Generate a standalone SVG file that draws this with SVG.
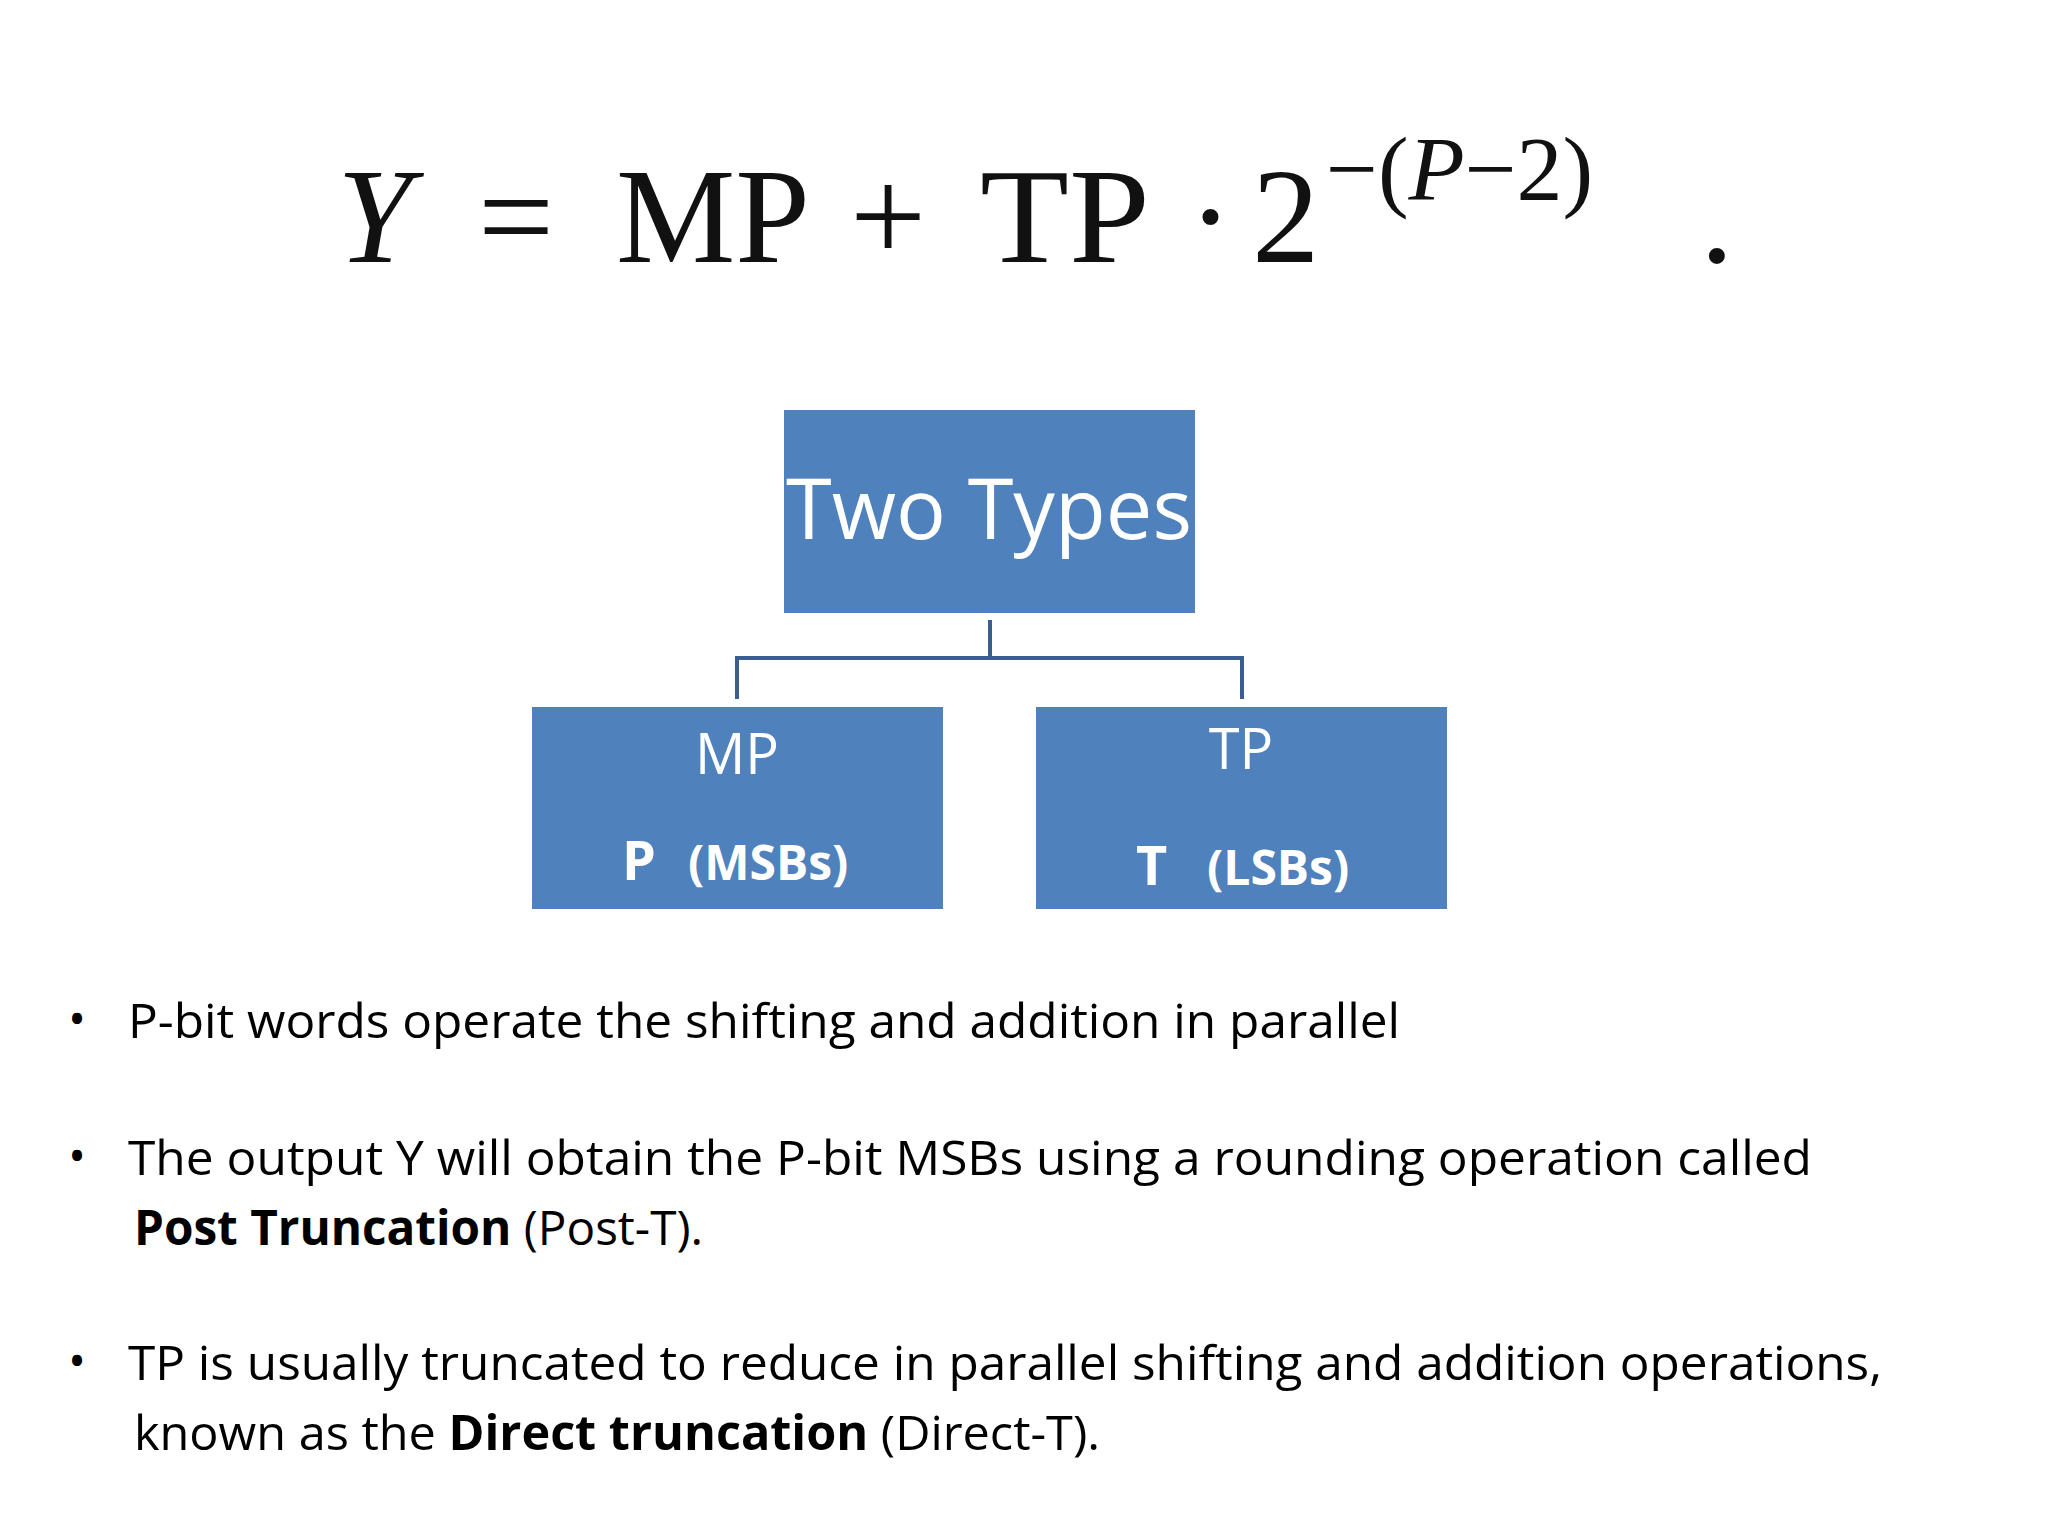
<svg xmlns="http://www.w3.org/2000/svg" width="2048" height="1536" viewBox="0 0 2048 1536">
<style>
.eq{font-family:"Liberation Serif",serif;font-size:135px;fill:#111}
.sup{font-family:"Liberation Serif",serif;font-size:92px;fill:#111}
.box{fill:#4F81BD}
.bt{font-family:"Open Sans","Liberation Sans",sans-serif;fill:#fff}
.t{font-family:"Open Sans","Liberation Sans",sans-serif;font-size:48px;fill:#000}
.b{font-weight:bold}
.conn{fill:none;stroke:#3A5F8F;stroke-width:4}
</style>
<rect width="2048" height="1536" fill="#fff"/>
<g id="equation">
<text class="eq" x="337" y="262" font-style="italic">Y</text>
<text class="eq" x="478" y="262">=</text>
<text class="eq" x="616" y="262" textLength="194" lengthAdjust="spacingAndGlyphs">MP</text>
<text class="eq" x="850" y="262">+</text>
<text class="eq" x="980" y="262" textLength="170" lengthAdjust="spacingAndGlyphs">TP</text>
<text class="eq" x="1188" y="262">·</text>
<text class="eq" x="1252" y="262">2</text>
<text class="sup" x="1326" y="200">−(<tspan font-style="italic">P</tspan>−2)</text>
<text class="eq" x="1700" y="262">.</text>
</g>
<g id="connectors">
<path class="conn" d="M990 620 V658 M737 699 V658 H1242 V699"/>
</g>
<g id="two-types">
<rect class="box" x="784" y="410" width="411" height="203"/>
<text class="bt" x="989" y="539" font-size="84" text-anchor="middle" textLength="406" lengthAdjust="spacingAndGlyphs">Two Types</text>
</g>
<g id="mp">
<rect class="box" x="532" y="707" width="411" height="202"/>
<text class="bt" x="737" y="774" font-size="56" text-anchor="middle">MP</text>
<text class="bt b" x="622" y="880" font-size="54">P</text>
<text class="bt b" x="688" y="880" font-size="48">(MSBs)</text>
</g>
<g id="tp">
<rect class="box" x="1036" y="707" width="411" height="202"/>
<text class="bt" x="1241" y="769" font-size="56" text-anchor="middle">TP</text>
<text class="bt b" x="1136" y="885" font-size="54">T</text>
<text class="bt b" x="1207" y="885" font-size="48">(LSBs)</text>
</g>
<g id="bullets">
<text class="t" x="68" y="1036">•</text>
<text class="t" x="128" y="1038" textLength="1272" lengthAdjust="spacingAndGlyphs">P-bit words operate the shifting and addition in parallel</text>
<text class="t" x="68" y="1173">•</text>
<text class="t" x="128" y="1175" textLength="1684" lengthAdjust="spacingAndGlyphs">The output Y will obtain the P-bit MSBs using a rounding operation called</text>
<text class="t" x="134" y="1245" textLength="569" lengthAdjust="spacingAndGlyphs"><tspan class="b">Post Truncation</tspan> (Post-T).</text>
<text class="t" x="68" y="1378">•</text>
<text class="t" x="128" y="1380" textLength="1754" lengthAdjust="spacingAndGlyphs">TP is usually truncated to reduce in parallel shifting and addition operations,</text>
<text class="t" x="134" y="1450" textLength="966" lengthAdjust="spacingAndGlyphs">known as the <tspan class="b">Direct truncation</tspan> (Direct-T).</text>
</g>
</svg>
